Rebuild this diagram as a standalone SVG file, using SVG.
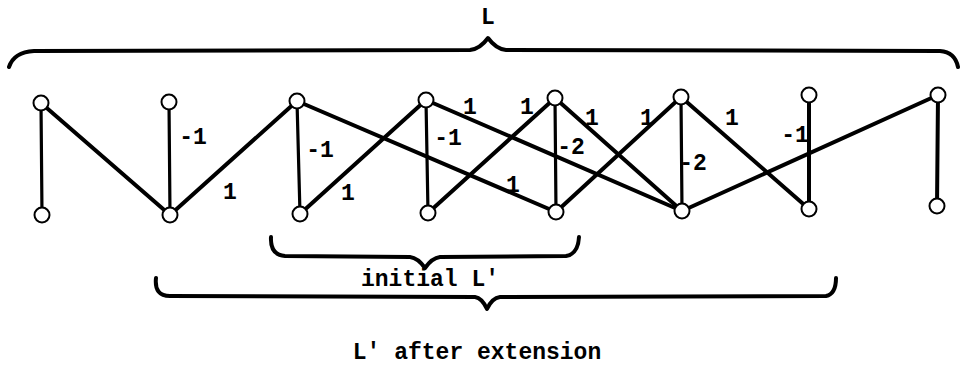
<svg xmlns="http://www.w3.org/2000/svg" width="963" height="373" viewBox="0 0 963 373">
<style>
.e{stroke:#000;stroke-width:4;stroke-linecap:round;fill:none}
.v{stroke-width:3.2}
.n{fill:#fff;stroke:#000;stroke-width:2}
.b{stroke:#000;stroke-width:4;fill:none;stroke-linecap:round;stroke-linejoin:round}
.t{font-family:"Liberation Mono",monospace;font-weight:bold;font-size:23px;fill:#000;text-anchor:middle}
</style>
<rect width="963" height="373" fill="#fff"/>
<g id="braces">
<path class="b" d="M9,67 Q14,52 34,51 L470,50 Q480,49 488,38 Q496,49 506,50 L940,51 Q955,52 958,67"/>
<path class="b" d="M271,237 Q270,255 285,256 L410,257 Q418,258 425,268 Q432,258 440,257 L566,256 Q578,254 579,237"/>
<path class="b" d="M156,278 Q154,296 170,296 L475,297 Q482,298 487,309 Q492,298 500,297 L826,296 Q836,294 836,278"/>
</g>
<g id="connectors">
<line class="e v" x1="41" y1="103" x2="42" y2="215"/>
<line class="e" x1="41" y1="103" x2="170" y2="215"/>
<line class="e v" x1="169" y1="102" x2="170" y2="215"/>
<line class="e" x1="170" y1="215" x2="297" y2="101"/>
<line class="e v" x1="297" y1="101" x2="300" y2="214"/>
<line class="e" x1="300" y1="214" x2="426" y2="100"/>
<line class="e" x1="297" y1="101" x2="556" y2="212"/>
<line class="e v" x1="426" y1="100" x2="428" y2="213"/>
<line class="e" x1="426" y1="100" x2="682" y2="211"/>
<line class="e" x1="428" y1="213" x2="555" y2="98"/>
<line class="e v" x1="555" y1="98" x2="556" y2="212"/>
<line class="e" x1="555" y1="98" x2="682" y2="211"/>
<line class="e" x1="556" y1="212" x2="681" y2="97"/>
<line class="e v" x1="681" y1="97" x2="682" y2="211"/>
<line class="e" x1="681" y1="97" x2="809" y2="209"/>
<line class="e" x1="682" y1="211" x2="938" y2="95"/>
<line class="e" x1="809" y1="95" x2="809" y2="209"/>
<line class="e" x1="938" y1="95" x2="937" y2="206"/>
</g>
<g id="nodes">
<circle id="t1" class="n" cx="41" cy="103" r="7.5"/>
<circle id="t2" class="n" cx="169" cy="102" r="7.5"/>
<circle id="t3" class="n" cx="297" cy="101" r="7.5"/>
<circle id="t4" class="n" cx="426" cy="100" r="7.5"/>
<circle id="t5" class="n" cx="555" cy="98" r="7.5"/>
<circle id="t6" class="n" cx="681" cy="97" r="7.5"/>
<circle id="t7" class="n" cx="809" cy="95" r="7.5"/>
<circle id="t8" class="n" cx="938" cy="95" r="7.5"/>
<circle id="b1" class="n" cx="42" cy="215" r="7.5"/>
<circle id="b2" class="n" cx="170" cy="215" r="7.5"/>
<circle id="b3" class="n" cx="300" cy="214" r="7.5"/>
<circle id="b4" class="n" cx="428" cy="213" r="7.5"/>
<circle id="b5" class="n" cx="556" cy="212" r="7.5"/>
<circle id="b6" class="n" cx="682" cy="211" r="7.5"/>
<circle id="b7" class="n" cx="809" cy="209" r="7.5"/>
<circle id="b8" class="n" cx="937" cy="206" r="7.5"/>
</g>
<g id="labels">
<text class="t" x="193" y="144">-1</text>
<text class="t" x="230" y="199">1</text>
<text class="t" x="320" y="157">-1</text>
<text class="t" x="348" y="200">1</text>
<text class="t" x="448" y="145">-1</text>
<text class="t" x="470" y="114">1</text>
<text class="t" x="527" y="114">1</text>
<text class="t" x="513" y="192">1</text>
<text class="t" x="571" y="154">-2</text>
<text class="t" x="592" y="125">1</text>
<text class="t" x="647" y="125">1</text>
<text class="t" x="693" y="170">-2</text>
<text class="t" x="732" y="125">1</text>
<text class="t" x="795" y="142">-1</text>
<text class="t" x="488" y="24">L</text>
<text class="t" x="430" y="286">initial L'</text>
<text class="t" x="477" y="359">L' after extension</text>
</g>
</svg>
